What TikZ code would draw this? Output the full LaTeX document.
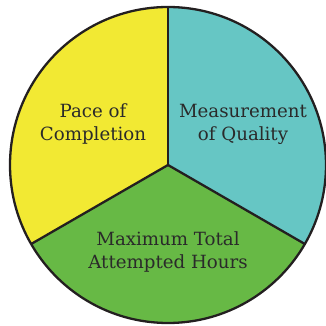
\documentclass[tikz,border=0pt]{standalone}
\usepackage{fontspec}
\setmainfont{DejaVu Serif}
\definecolor{pieyellow}{HTML}{F2E933}
\definecolor{pieteal}{HTML}{66C6C4}
\definecolor{piegreen}{HTML}{67B945}
\definecolor{pieline}{HTML}{231F20}
\definecolor{pietext}{HTML}{2A2A2A}
\tikzset{
  piefill/.style={draw=none},
  pieedge/.style={draw=pieline, line width=2.3pt, line join=round},
  pielabel/.style={text=pietext, align=center, font=\fontsize{18.2}{23}\selectfont, inner sep=0pt}
}
\begin{document}
\begin{tikzpicture}[x=1pt,y=1pt]
\useasboundingbox (0,0) rectangle (325,326);
\coordinate (c) at (168,161);
\fill[pieyellow] (c) -- ++(90:158) arc (90:210:158) -- cycle;
\fill[pieteal] (c) -- ++(90:158) arc (90:-30:158) -- cycle;
\fill[piegreen] (c) -- ++(210:158) arc (210:330:158) -- cycle;
\draw[pieedge] (c) circle (158);
\draw[pieedge] (c) -- ++(90:158);
\draw[pieedge] (c) -- ++(210:158);
\draw[pieedge] (c) -- ++(330:158);
\node[pielabel] (pace) at (93,202) {Pace of\\Completion};
\node[pielabel] (qual) at (243,202) {Measurement\\of Quality};
\node[pielabel] (hours) at (168,74) {Maximum Total\\Attempted Hours};
\end{tikzpicture}
\end{document}
